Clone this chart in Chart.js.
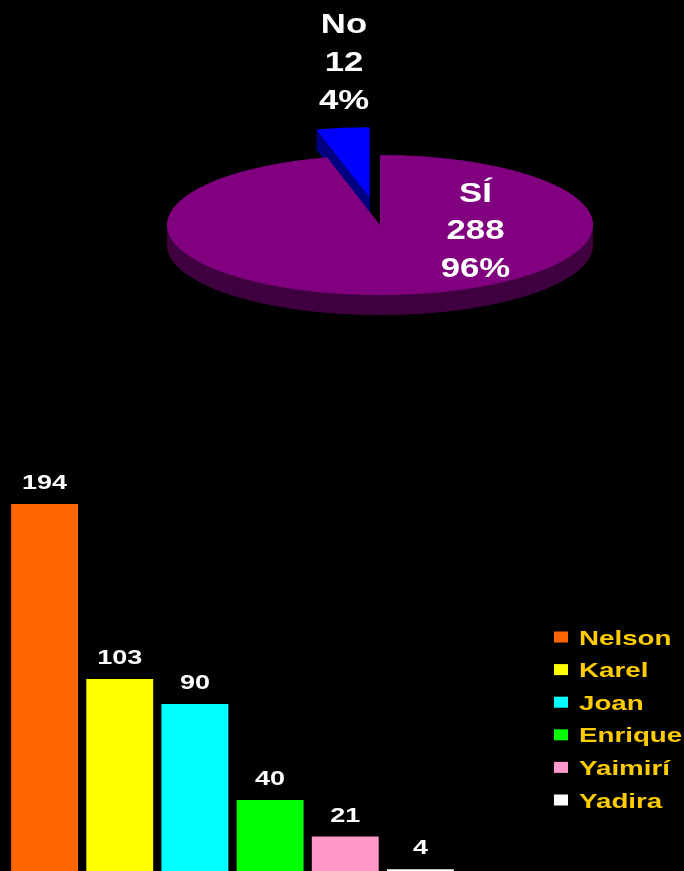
<!DOCTYPE html>
<html>
<head>
<meta charset="utf-8">
<script src="https://cdn.jsdelivr.net/npm/chart.js@4.4.1/dist/chart.umd.min.js"></script>
<style>
  html, body { margin: 0; padding: 0; background: #000; overflow: hidden; width: 684px; height: 871px; }
  #pie { position: absolute; left: 0; top: 0; }
  #bar { position: absolute; left: 0; top: 444px; }
</style>
</head>
<body>
<canvas id="pie" width="684" height="450"></canvas>
<canvas id="bar" width="684" height="433"></canvas>
<script>
// Pie: answers
const pieLabels = ['SÍ', 'No'];
const pieValues = [288, 12];
const pieColors = ['#800080', '#0000FF'];
const pieSideColors = ['#400040', '#000080'];

// Bars: votes per person
const barLabels = ['Nelson', 'Karel', 'Joan', 'Enrique', 'Yaimirí', 'Yadira'];
const barValues = [194, 103, 90, 40, 21, 4];
const barColors = ['#FF6600', '#FFFF00', '#00FFFF', '#00FF00', '#FF99CC', '#FFFFFF'];
const legendTextColor = '#FFCC00';

const FONT = '"Liberation Sans", Arial, sans-serif';

// draw text with a horizontal stretch
function wideText(ctx, text, x, y, sx, align) {
  ctx.save();
  ctx.translate(x, y);
  ctx.scale(sx, 1);
  ctx.textAlign = align || 'center';
  ctx.fillText(text, 0, 0);
  ctx.restore();
}

// 3D tilted pie drawn from the arc elements computed by Chart.js
const TILT = 70 / 213;     // vertical squash of the disc
const DEPTH = 20;          // thickness in screen px
const EXPLODE = [0, 85];   // radial pull-out per slice (unsquashed px)

const pie3d = {
  id: 'pie3d',
  beforeDatasetsDraw(chart) {
    const ctx = chart.ctx;
    const arcs = chart.getDatasetMeta(0).data;
    const cx = arcs[0].x, cy = arcs[0].y;
    const slicePath = (a, i, drop) => {
      const mid = (a.startAngle + a.endAngle) / 2;
      const x = a.x + Math.cos(mid) * EXPLODE[i];
      const y = a.y + Math.sin(mid) * EXPLODE[i] + drop / TILT;
      ctx.beginPath();
      ctx.moveTo(x, y);
      ctx.arc(x, y, a.outerRadius, a.startAngle, a.endAngle);
      ctx.closePath();
    };
    ctx.save();
    ctx.translate(cx, cy);
    ctx.scale(1, TILT);
    ctx.translate(-cx, -cy);
    for (let d = DEPTH; d >= 0.5; d -= 0.5) {
      arcs.forEach((a, i) => {
        slicePath(a, i, d);
        ctx.fillStyle = pieSideColors[i];
        ctx.fill();
      });
    }
    arcs.forEach((a, i) => {
      slicePath(a, i, 0);
      ctx.fillStyle = a.options.backgroundColor;
      ctx.fill();
    });
    ctx.restore();
    return false;
  },
  afterDraw(chart) {
    const ctx = chart.ctx;
    const a = chart.getDatasetMeta(0).data[0];
    const cx = a.x, cy = a.y;
    const total = pieValues.reduce((s, v) => s + v, 0);
    // first-line baseline offsets from the disc centre
    const spots = [[95.5, -23.3], [-36, -191.7]];
    ctx.fillStyle = '#FFFFFF';
    ctx.font = 'bold 28px ' + FONT;
    ctx.textBaseline = 'alphabetic';
    pieLabels.forEach((lab, i) => {
      const pct = Math.round(pieValues[i] / total * 100) + '%';
      const lines = [lab, String(pieValues[i]), pct];
      lines.forEach((t, k) => {
        wideText(ctx, t, cx + spots[i][0], cy + spots[i][1] + k * 37.6, 1.24);
      });
    });
  }
};

new Chart(document.getElementById('pie'), {
  type: 'pie',
  data: {
    labels: pieLabels,
    datasets: [{ data: pieValues, backgroundColor: pieColors, borderWidth: 0, clip: false }]
  },
  options: {
    responsive: false,
    animation: false,
    radius: 213,
    rotation: 0,
    layout: { padding: { left: 76 } },
    plugins: { legend: { display: false }, tooltip: { enabled: false } }
  },
  plugins: [pie3d]
});

// value labels above bars and the legend column
const barText = {
  id: 'barText',
  afterDatasetsDraw(chart) {
    const ctx = chart.ctx;
    const bars = chart.getDatasetMeta(0).data;
    ctx.fillStyle = '#FFFFFF';
    ctx.font = 'bold 20px ' + FONT;
    ctx.textBaseline = 'alphabetic';
    bars.forEach((b, i) => {
      wideText(ctx, String(barValues[i]), b.x, b.y - 15, 1.35);
    });
  },
  afterDraw(chart) {
    const ctx = chart.ctx;
    const top = 444;
    ctx.font = 'bold 21px ' + FONT;
    ctx.textBaseline = 'alphabetic';
    barLabels.forEach((lab, i) => {
      const yc = 637 + i * 32.6 - top;
      ctx.fillStyle = barColors[i];
      ctx.fillRect(554, yc - 5.5, 14, 11);
      ctx.fillStyle = legendTextColor;
      wideText(ctx, lab, 579, yc + 7.5, 1.32, 'left');
    });
  }
};

new Chart(document.getElementById('bar'), {
  type: 'bar',
  data: {
    labels: barLabels,
    datasets: [{
      data: barValues,
      backgroundColor: barColors,
      borderWidth: 0,
      barPercentage: 0.89,
      categoryPercentage: 1
    }]
  },
  options: {
    responsive: false,
    animation: false,
    layout: { padding: { left: 7, right: 226, top: 10, bottom: 0 } },
    scales: {
      x: { display: false },
      y: { display: false, min: 0, max: 220 }
    },
    plugins: { legend: { display: false }, tooltip: { enabled: false } }
  },
  plugins: [barText]
});
</script>
</body>
</html>
